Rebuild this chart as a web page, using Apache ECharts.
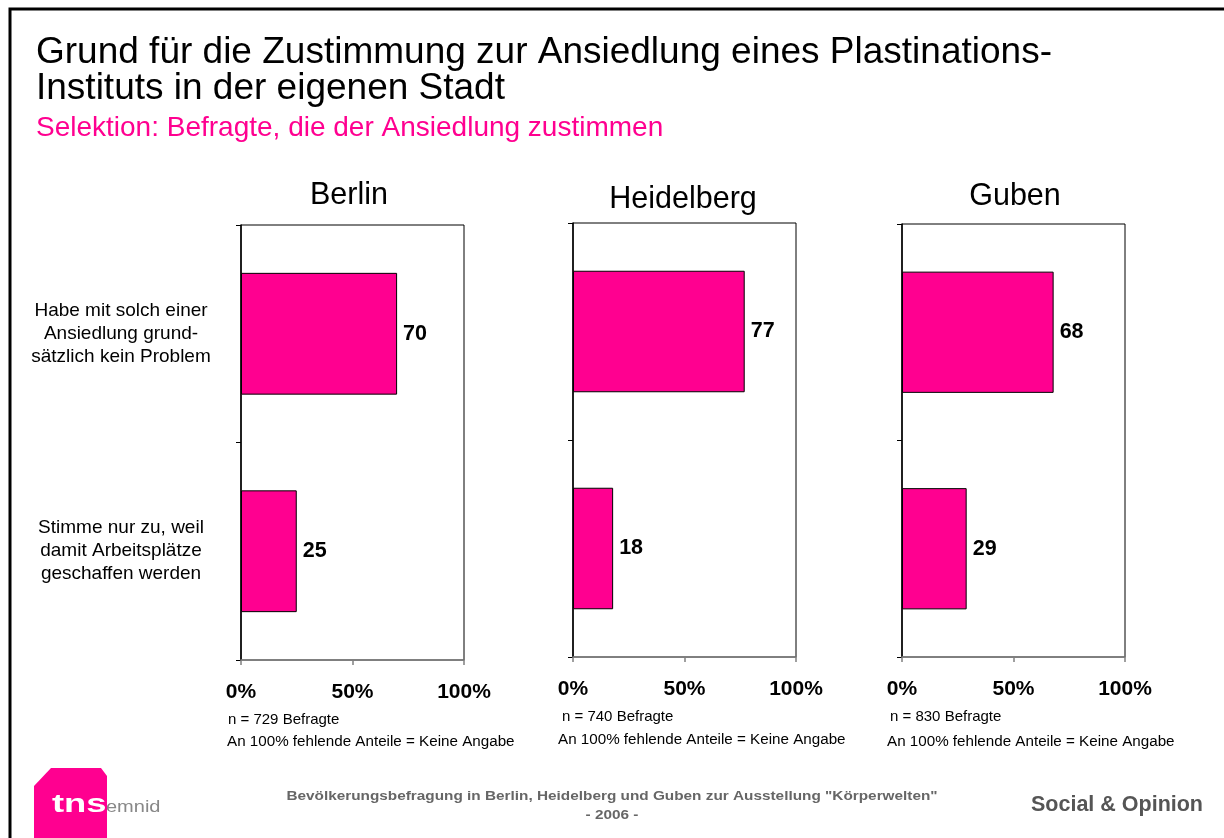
<!DOCTYPE html>
<html>
<head>
<meta charset="utf-8">
<script src="https://cdn.jsdelivr.net/npm/echarts@6/dist/echarts.min.js"></script>
<style>
html,body{margin:0;padding:0;background:#fff;}
#main{width:1224px;height:838px;}
</style>
</head>
<body>
<div id="main"></div>
<script>
const cities = ['Berlin', 'Heidelberg', 'Guben'];
const categories = [
  'Habe mit solch einer\nAnsiedlung grund-\nsätzlich kein Problem',
  'Stimme nur zu, weil\ndamit Arbeitsplätze\ngeschaffen werden'
];
const berlinValues = [70, 25];
const heidelbergValues = [77, 18];
const gubenValues = [68, 29];
const sampleNotes = ['n = 729 Befragte', 'n = 740 Befragte', 'n = 830 Befragte'];
const missingNote = 'An 100% fehlende Anteile = Keine Angabe';
const xTickValues = [0, 50, 100];
const titleLines = ['Grund für die Zustimmung zur Ansiedlung eines Plastinations-', 'Instituts in der eigenen Stadt'];
const subtitle = 'Selektion: Befragte, die der Ansiedlung zustimmen';
const footerLines = ['Bevölkerungsbefragung in Berlin, Heidelberg und Guben zur Ausstellung "Körperwelten"', '- 2006 -'];
const brand = 'Social & Opinion';

const seriesValues = [berlinValues, heidelbergValues, gubenValues];
const FONT = '"Liberation Sans", Arial, sans-serif';
const MAGENTA = '#FF0090';

const grids = [
  {left: 241, top: 225, width: 223, height: 435},
  {left: 573, top: 223, width: 223, height: 434},
  {left: 902, top: 224, width: 223, height: 433}
];
const titleCenters = [[349, 196], [683, 200], [1015, 197]];
const noteStarts = [[228, 720, 227, 742], [562, 717, 558, 740], [890, 717, 887, 742]];

const option = {
  backgroundColor: '#fff',
  animation: false,
  grid: grids.map(g => Object.assign({show: true, borderColor: '#000', borderWidth: 1, backgroundColor: 'transparent'}, g)),
  xAxis: grids.map((g, i) => ({
    type: 'value', gridIndex: i, min: 0, max: 100, interval: 50,
    splitLine: {show: false},
    axisLine: {show: true, lineStyle: {color: '#808080', width: 1.5}},
    axisTick: {show: true, length: 5, lineStyle: {color: '#808080', width: 1.5}},
    axisLabel: {
      formatter: v => xTickValues.includes(v) ? v + '%' : '',
      fontFamily: FONT, fontWeight: 'bold', fontSize: 21, color: '#000', margin: 22
    }
  })),
  yAxis: grids.map((g, i) => ({
    type: 'category', gridIndex: i, data: categories, inverse: true,
    axisLine: {show: true, lineStyle: {color: '#000', width: 1.5}},
    axisTick: {show: true, length: 5, lineStyle: {color: '#000', width: 1}},
    axisLabel: {
      show: i === 0, align: 'center', margin: 120,
      fontFamily: FONT, fontSize: 19, lineHeight: 23, color: '#000'
    }
  })),
  series: seriesValues.map((vals, i) => ({
    type: 'bar', xAxisIndex: i, yAxisIndex: i, data: vals, barWidth: '56%',
    itemStyle: {color: MAGENTA, borderColor: '#000', borderWidth: 1},
    label: {show: true, position: 'right', distance: 6, fontFamily: FONT, fontWeight: 'bold', fontSize: 21.5, color: '#000'}
  })),
  graphic: [
    {type: 'polyline', shape: {points: [[10, 838], [10, 9], [1224, 9]]}, style: {stroke: '#000', lineWidth: 3, fill: null}},
    {type: 'text', x: 36, y: 53, style: {text: titleLines[0], font: '37px ' + FONT, fill: '#000', verticalAlign: 'middle'}},
    {type: 'text', x: 36, y: 89, style: {text: titleLines[1], font: '37px ' + FONT, fill: '#000', verticalAlign: 'middle'}},
    {type: 'text', x: 36, y: 128, style: {text: subtitle, font: '28px ' + FONT, fill: MAGENTA, verticalAlign: 'middle'}},
    ...cities.map((c, i) => ({type: 'text', x: titleCenters[i][0], y: titleCenters[i][1], style: {text: c, font: '30.5px ' + FONT, fill: '#000', align: 'center', verticalAlign: 'middle'}})),
    ...sampleNotes.map((n, i) => ({type: 'text', x: noteStarts[i][0], y: noteStarts[i][1], style: {text: n, font: '15px ' + FONT, fill: '#000', verticalAlign: 'middle'}})),
    ...sampleNotes.map((n, i) => ({type: 'text', x: noteStarts[i][2], y: noteStarts[i][3], style: {text: missingNote, font: '15.2px ' + FONT, fill: '#000', verticalAlign: 'middle'}})),
    {type: 'text', x: 612, y: 796, scaleX: 1.18, style: {text: footerLines[0], font: 'bold 13px ' + FONT, fill: '#666', align: 'center', verticalAlign: 'middle'}},
    {type: 'text', x: 612, y: 815, scaleX: 1.18, style: {text: footerLines[1], font: 'bold 13px ' + FONT, fill: '#666', align: 'center', verticalAlign: 'middle'}},
    {type: 'text', x: 1203, y: 805, style: {text: brand, font: 'bold 21.5px ' + FONT, fill: '#555', align: 'right', verticalAlign: 'middle'}},
    {type: 'polygon', shape: {points: [[34, 786], [51, 768], [101, 768], [107, 776], [107, 838], [34, 838]]}, style: {fill: MAGENTA}},
    {type: 'text', x: 52, y: 805, scaleX: 1.4, style: {text: 'tns', font: 'bold 26px ' + FONT, fill: '#fff', verticalAlign: 'middle'}},
    {type: 'text', x: 106, y: 808, scaleX: 1.25, style: {text: 'emnid', font: '16px ' + FONT, fill: '#888', verticalAlign: 'middle'}}
  ]
};

const chart = echarts.init(document.getElementById('main'), null, {renderer: 'canvas'});
chart.setOption(option);
</script>
</body>
</html>
